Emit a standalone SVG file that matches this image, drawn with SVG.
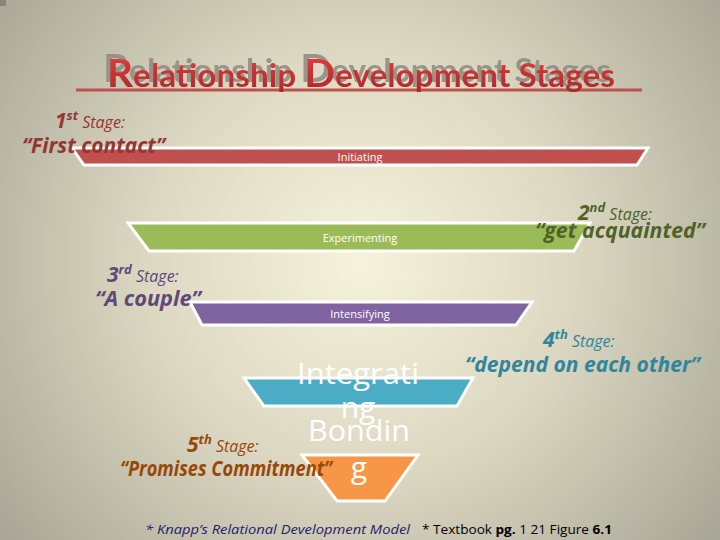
<svg xmlns="http://www.w3.org/2000/svg" width="720" height="540" viewBox="0 0 720 540">
<defs>
<radialGradient id="bg" cx="360" cy="260" r="470" gradientUnits="userSpaceOnUse">
<stop offset="0" stop-color="#f6f3dd"/>
<stop offset="0.45" stop-color="#dcd8c2"/>
<stop offset="1" stop-color="#a4a293"/>
</radialGradient>
<linearGradient id="titleRed" x1="0" y1="0" x2="0" y2="1">
<stop offset="0" stop-color="#e8403f"/>
<stop offset="1" stop-color="#a8272a"/>
</linearGradient>
<filter id="shadow" x="-5%" y="-40%" width="110%" height="160%">
<feOffset in="SourceAlpha" dx="-4" dy="-5" result="off"/>
<feFlood flood-color="#8c8a80" flood-opacity="0.85"/>
<feComposite in2="off" operator="in" result="sh"/>
<feMerge><feMergeNode in="sh"/><feMergeNode in="SourceGraphic"/></feMerge>
</filter>
<style>
.trap{stroke:#ffffff;stroke-width:3;stroke-linejoin:miter}
.lbl{font-family:"Open Sans","Liberation Sans",sans-serif;fill:#ffffff;text-anchor:middle}
.st{font-family:"Open Sans","Liberation Sans",sans-serif;font-style:italic}
.num{font-weight:bold;font-size:21px}
.sup{font-weight:bold;font-size:13px}
.stg{font-size:16px}
.quo{font-weight:bold;font-size:22px}
.ttl{font-family:"Lato","Open Sans",sans-serif;font-weight:bold;font-size:32px}
</style>
</defs>
<rect width="720" height="540" fill="url(#bg)"/>
<path d="M0 0 H6 V6 H0 Z" fill="#8a877a"/>

<g id="title">
<line x1="76" y1="90" x2="642" y2="90" stroke="#c0504d" stroke-width="3"/>
<text class="ttl" x="107" y="87" fill="url(#titleRed)" filter="url(#shadow)" textLength="508" lengthAdjust="spacingAndGlyphs"><tspan font-size="39">R</tspan>elationship <tspan font-size="39">D</tspan>evelopment Stages</text>
</g>

<g id="connectors"></g>

<g id="initiating">
<polygon class="trap" fill="#c0504d" points="72,148 648,148 637,165 84,165"/>
<text class="lbl" x="360" y="161" font-size="11">Initiating</text>
</g>
<g id="experimenting">
<polygon class="trap" fill="#9bbb59" points="128,223 590,223 574,251 149,251"/>
<text class="lbl" x="360" y="242" font-size="11">Experimenting</text>
</g>
<g id="intensifying">
<polygon class="trap" fill="#8064a2" points="190,302 532,302 516,325 202,325"/>
<text class="lbl" x="360" y="318" font-size="11">Intensifying</text>
</g>
<g id="integrating">
<polygon class="trap" fill="#4bacc6" points="244,378 473,378 457,406 264,406"/>
<text class="lbl" x="358" y="384" font-size="30" textLength="122" lengthAdjust="spacingAndGlyphs">Integrati</text>
<text class="lbl" x="358" y="418" font-size="30">ng</text>
</g>
<g id="bonding">
<polygon class="trap" fill="#f79646" points="302,455 418,455 385,501 337,501"/>
<text class="lbl" x="359" y="441" font-size="30" textLength="102" lengthAdjust="spacingAndGlyphs">Bondin</text>
<text class="lbl" x="359" y="478" font-size="30">g</text>
</g>

<g id="stage1">
<text class="st" fill="#943634" x="55" y="128"><tspan class="num">1</tspan><tspan class="sup" dy="-8">st</tspan><tspan class="stg" dy="8"> Stage:</tspan></text>
<text class="st quo" fill="#943634" x="22" y="153" textLength="143" lengthAdjust="spacingAndGlyphs">“First contact”</text>
</g>
<g id="stage2">
<text class="st" fill="#4f6228" x="578" y="220"><tspan class="num">2</tspan><tspan class="sup" dy="-8">nd</tspan><tspan class="stg" dy="8"> Stage:</tspan></text>
<text class="st quo" fill="#4f6228" x="535" y="238" textLength="170" lengthAdjust="spacingAndGlyphs">“get acquainted”</text>
</g>
<g id="stage3">
<text class="st" fill="#5f497a" x="107" y="282"><tspan class="num">3</tspan><tspan class="sup" dy="-8">rd</tspan><tspan class="stg" dy="8"> Stage:</tspan></text>
<text class="st quo" fill="#5f497a" x="95" y="306" textLength="106" lengthAdjust="spacingAndGlyphs">“A couple”</text>
</g>
<g id="stage4">
<text class="st" fill="#31859c" x="543" y="347"><tspan class="num">4</tspan><tspan class="sup" dy="-8">th</tspan><tspan class="stg" dy="8"> Stage:</tspan></text>
<text class="st quo" fill="#31859c" x="465" y="372" textLength="235" lengthAdjust="spacingAndGlyphs">“depend on each other”</text>
</g>
<g id="stage5">
<text class="st" fill="#984807" x="187" y="452"><tspan class="num">5</tspan><tspan class="sup" dy="-8">th</tspan><tspan class="stg" dy="8"> Stage:</tspan></text>
<text class="st quo" fill="#984807" x="120" y="476" font-size="20" textLength="212" lengthAdjust="spacingAndGlyphs">“Promises Commitment”</text>
</g>

<g id="footer">
<text x="145" y="534" font-family="Open Sans, Liberation Sans, sans-serif" font-size="13" font-style="italic" fill="#1f2070" textLength="265" lengthAdjust="spacingAndGlyphs">* Knapp’s Relational Development Model</text>
<text x="422" y="534" font-family="Open Sans, Liberation Sans, sans-serif" font-size="13" fill="#000000" textLength="190" lengthAdjust="spacingAndGlyphs">* Textbook <tspan font-weight="bold">pg.</tspan> 1 21 Figure <tspan font-weight="bold">6.1</tspan></text>
</g>
</svg>
